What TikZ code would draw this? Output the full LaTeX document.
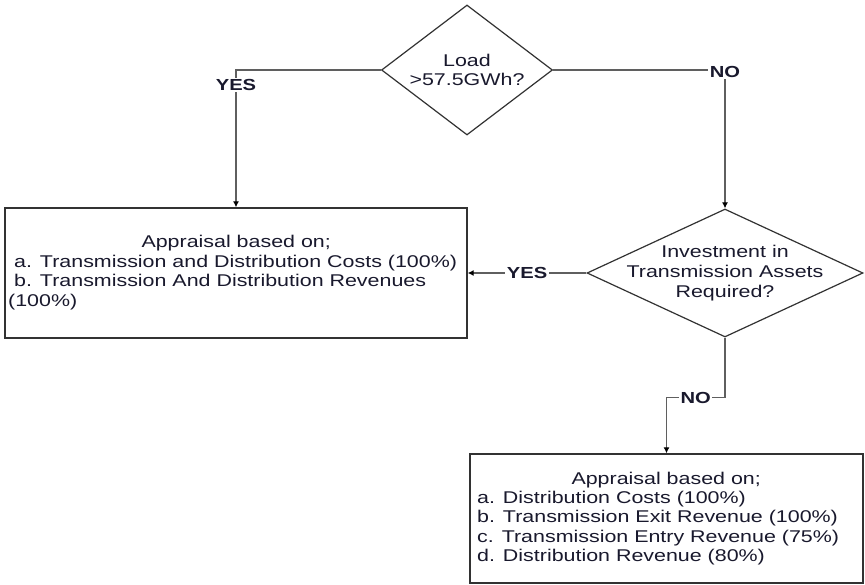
\documentclass[tikz,border=0pt]{standalone}
\usepackage{fontspec}
\setmainfont{Liberation Sans}[FakeStretch=1.26]
\usetikzlibrary{shapes.geometric,arrows.meta}
\definecolor{connc}{RGB}{95,95,95}
\definecolor{edgec}{RGB}{50,50,50}
\definecolor{txtc}{RGB}{25,25,45}
\begin{document}
\begin{tikzpicture}[x=1pt,y=-1pt,
  decision/.style={diamond, draw=edgec, line width=1.2pt, inner sep=0pt},
  box/.style={rectangle, draw=edgec, line width=1.3pt, inner sep=0pt},
  txtnode/.style={inner sep=0pt, text=txtc, font=\fontsize{17}{19.5}\selectfont},
  conn/.style={draw=connc, line width=1.6pt, -{Latex[length=6pt,width=6pt,color=black]}},
  lbl/.style={fill=white, inner sep=1.5pt, text=txtc, font=\bfseries\fontsize{16}{18}\selectfont}
]
\useasboundingbox (0,0) rectangle (865,585);
\fill[white] (0,0) rectangle (865,585);

\node[decision, minimum width=171pt, minimum height=130pt] (d1) at (467,70) {};
\node[decision, minimum width=276pt, minimum height=128pt] (d2) at (725,273) {};
\node[box, minimum width=462pt, minimum height=130pt] (b1) at (236,273) {};
\node[box, minimum width=393pt, minimum height=129pt] (b2) at (666.5,518.5) {};

\node[txtnode, align=center] (d1t) at (d1.center) {Load\\>57.5GWh?};
\node[txtnode, align=center, font=\fontsize{17}{20}\selectfont] (d2t) at (d2.center) {Investment in\\Transmission Assets\\Required?};

\node[txtnode, align=left, anchor=west] (b1t) at (8,272.5)
  {\makebox[456pt][c]{Appraisal based on;}\\
   \hspace*{6pt}a. Transmission and Distribution Costs (100\%)\\
   \hspace*{6pt}b. Transmission And Distribution Revenues\\
   (100\%)};
\node[txtnode, align=left, anchor=west, font=\fontsize{17}{19.25}\selectfont] (b2t) at (477,518.5)
  {\makebox[378pt][c]{Appraisal based on;}\\
   a. Distribution Costs (100\%)\\
   b. Transmission Exit Revenue (100\%)\\
   c. Transmission Entry Revenue (75\%)\\
   d. Distribution Revenue (80\%)};

\draw[conn] (d1.west) -| node[lbl, pos=0.554] (yes1) {YES} (b1.north);
\draw[conn] (d1.east) -| node[lbl, pos=0.5, yshift=-2pt] (no1) {NO} (d2.north);
\draw[conn] (d2.west) -- node[lbl] (yes2) {YES} (b1.east);
\draw[conn] (d2.south) -- ++(0,60) -| node[lbl, pos=0.25] (no2) {NO} (b2.north);
\end{tikzpicture}
\end{document}
